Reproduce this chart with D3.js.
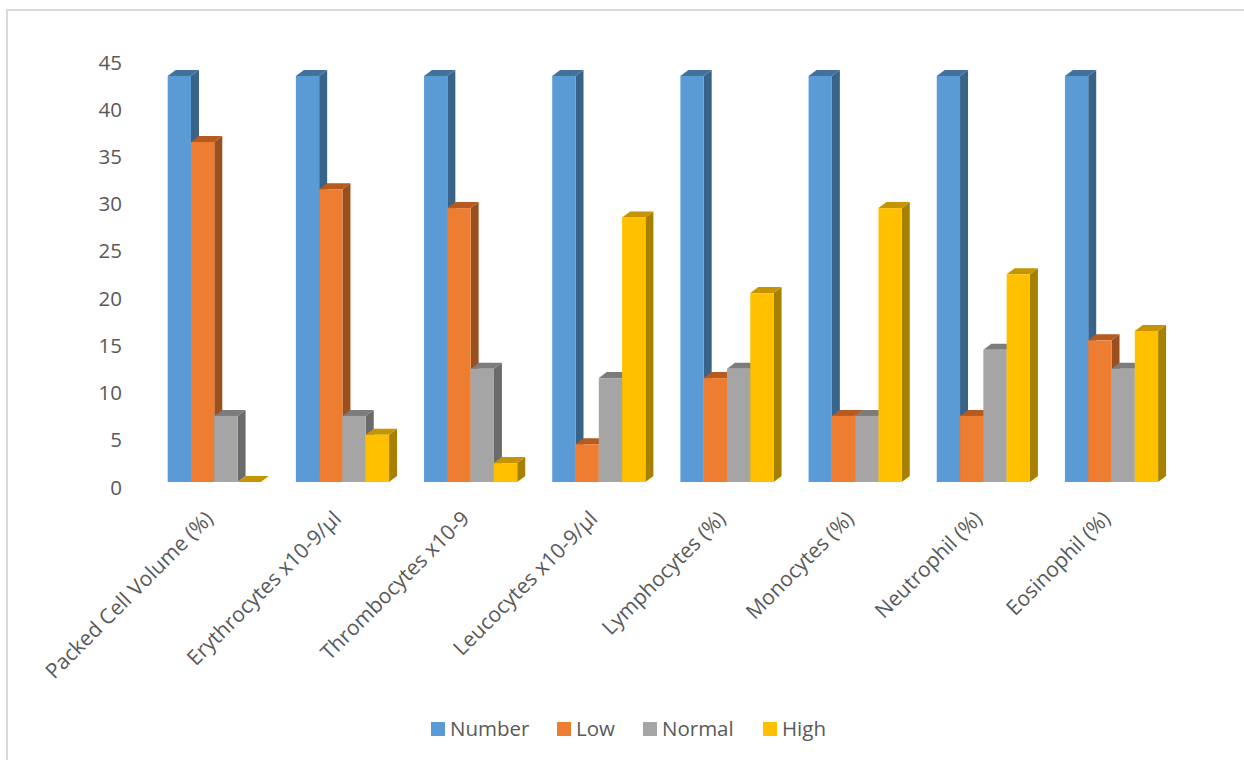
<!DOCTYPE html>
<html>
<head>
<meta charset="utf-8">
<style>
  html, body { margin: 0; padding: 0; background: #fff; }
  svg { display: block; }
  text { font-family: "Open Sans", Lato, sans-serif; fill: #595959; }
</style>
<script src="https://cdn.jsdelivr.net/npm/d3@7/dist/d3.min.js"></script>
</head>
<body>
<svg id="chart" width="1244" height="760"></svg>
<script>
const categories = ["Packed Cell Volume (%)", "Erythrocytes x10-9/µl", "Thrombocytes x10-9", "Leucocytes x10-9/µl", "Lymphocytes (%)", "Monocytes (%)", "Neutrophil (%)", "Eosinophil (%)"];
const seriesNames = ["Number", "Low", "Normal", "High"];
const numberValues = [43, 43, 43, 43, 43, 43, 43, 43];
const lowValues = [36, 31, 29, 4, 11, 7, 7, 15];
const normalValues = [7, 7, 12, 11, 12, 7, 14, 12];
const highValues = [0, 5, 2, 28, 20, 29, 22, 16];
const yTicks = [0, 5, 10, 15, 20, 25, 30, 35, 40, 45];

const seriesValues = [numberValues, lowValues, normalValues, highValues];
const frontColors = ["#5b9bd5", "#ed7d31", "#a5a5a5", "#ffc000"];
const topColors = ["#41719c", "#b65a20", "#7c7c7c", "#c49500"];
const sideColors = ["#3a6389", "#9a4f1c", "#6b6b6b", "#a88000"];

const depthX = 8, depthY = 6;
const svg = d3.select("#chart");

// Chart frame: only the top and left edges fall inside the page
svg.append("path")
  .attr("d", "M7,760V10H1244")
  .attr("fill", "none")
  .attr("stroke", "#d9d9d9")
  .attr("stroke-width", 2);

const x = d3.scaleBand().domain(categories).range([150.2, 1175.6]).paddingInner(0.273).paddingOuter(0.1365);
const xSeries = d3.scaleBand().domain(seriesNames).range([0, x.bandwidth()]);
const y = d3.scaleLinear().domain([0, 45]).range([482, 57]);

// Value axis sits on the back wall of the 3D plot, slightly below the front baseline
const yAxis = svg.append("g")
  .attr("transform", "translate(128,5.5)")
  .call(d3.axisLeft(y).tickValues(yTicks).tickSize(0).tickPadding(6));
yAxis.select(".domain").remove();
yAxis.selectAll("text").style("font-size", "20.5px");

// Category labels rotated 45 degrees and ending under each group's centre
const xAxis = svg.append("g")
  .attr("transform", "translate(0,482)")
  .call(d3.axisBottom(x).tickSize(0).tickFormat(d => d));
xAxis.select(".domain").remove();
xAxis.selectAll("text")
  .style("font-size", "21px")
  .attr("text-anchor", "end")
  .attr("x", 0).attr("y", 0).attr("dy", 0)
  .attr("transform", "translate(0,38) rotate(-45)");

// Each bar is a box: side face, top face, then front face, painted left to right
const groups = svg.append("g").selectAll("g")
  .data(categories)
  .join("g")
  .attr("transform", d => `translate(${x(d)},0)`);

groups.each(function (cat, ci) {
  const g = d3.select(this);
  seriesNames.forEach((name, si) => {
    const left = xSeries(name);
    const w = xSeries.bandwidth();
    const v = seriesValues[si][ci];
    const top = y(v), base = y(0);
    const bar = g.append("g");
    bar.append("path")
      .attr("d", `M${left + w},${top}l${depthX},${-depthY}V${base - depthY}l${-depthX},${depthY}Z`)
      .attr("fill", sideColors[si]);
    bar.append("path")
      .attr("d", `M${left},${top}l${depthX},${-depthY}h${w}l${-depthX},${depthY}Z`)
      .attr("fill", topColors[si]);
    bar.append("rect")
      .attr("x", left).attr("y", top)
      .attr("width", w).attr("height", base - top)
      .attr("fill", frontColors[si]);
  });
});

// Legend
const legendX = d3.scaleOrdinal().domain(seriesNames).range([431, 557, 643, 763]);
const legend = svg.append("g").selectAll("g")
  .data(seriesNames)
  .join("g")
  .attr("transform", d => `translate(${legendX(d)},722)`);
legend.append("rect")
  .attr("width", 14).attr("height", 14)
  .attr("fill", (d, i) => frontColors[i]);
legend.append("text")
  .attr("x", 19).attr("y", 14)
  .style("font-size", "20.5px")
  .text(d => d);
</script>
</body>
</html>
